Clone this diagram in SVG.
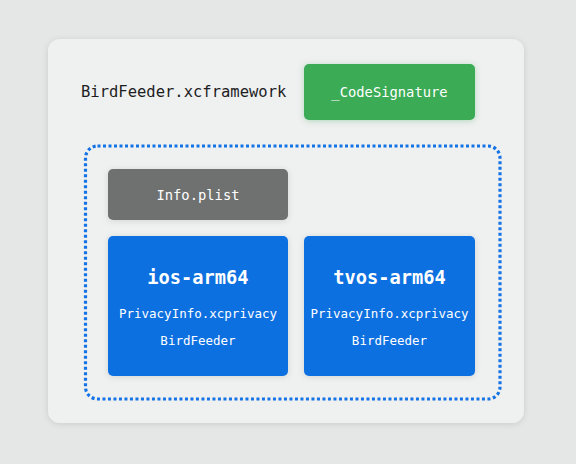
<svg xmlns="http://www.w3.org/2000/svg" width="576" height="464" viewBox="0 0 576 464">
<defs>
<filter id="sh" x="-20%" y="-20%" width="140%" height="140%"><feDropShadow dx="0" dy="1" stdDeviation="3" flood-color="#000" flood-opacity="0.12"/></filter>
<filter id="shg" x="-20%" y="-30%" width="140%" height="160%"><feDropShadow dx="0" dy="1" stdDeviation="3" flood-color="#3aab55" flood-opacity="0.35"/></filter>
<style>
.mono{font-family:"DejaVu Sans Mono","Liberation Mono",monospace;text-anchor:middle;dominant-baseline:central}
.w{fill:#fff}
</style>
</defs>
<rect width="576" height="464" fill="#e5e6e6"/>
<rect x="48" y="39" width="476" height="384" rx="12" fill="#eff0f0" filter="url(#sh)"/>
<text x="81" y="92" class="mono" style="text-anchor:start;font-size:15.5px" fill="#1d1d1f">BirdFeeder.xcframework</text>
<g id="codesignature">
<rect x="304" y="64" width="171" height="56" rx="5" fill="#3aab55" filter="url(#shg)"/>
<text x="389.5" y="92" class="mono w" font-size="13.8">_CodeSignature</text>
</g>
<g id="slices">
<rect x="85.5" y="146" width="414.5" height="253" rx="12" fill="none" stroke="#1473e6" stroke-width="3.2" stroke-dasharray="3 2.5"/>
</g>
<g id="infoplist">
<rect x="108" y="169" width="180" height="51" rx="5" fill="#6e7170" filter="url(#sh)"/>
<text x="198" y="194.5" class="mono w" font-size="13.8">Info.plist</text>
</g>
<g id="ios">
<rect x="108" y="236" width="180" height="140" rx="5" fill="#0a6fe0" filter="url(#sh)"/>
<text x="198" y="277" class="mono w" font-size="18.7" font-weight="bold">ios-arm64</text>
<text x="198" y="313" class="mono w" font-size="12.5">PrivacyInfo.xcprivacy</text>
<text x="198" y="340" class="mono w" font-size="12.5">BirdFeeder</text>
</g>
<g id="tvos">
<rect x="304" y="236" width="171" height="140" rx="5" fill="#0a6fe0" filter="url(#sh)"/>
<text x="389.5" y="277" class="mono w" font-size="18.7" font-weight="bold">tvos-arm64</text>
<text x="389.5" y="313" class="mono w" font-size="12.5">PrivacyInfo.xcprivacy</text>
<text x="389.5" y="340" class="mono w" font-size="12.5">BirdFeeder</text>
</g>
<g id="connectors"></g>
</svg>
